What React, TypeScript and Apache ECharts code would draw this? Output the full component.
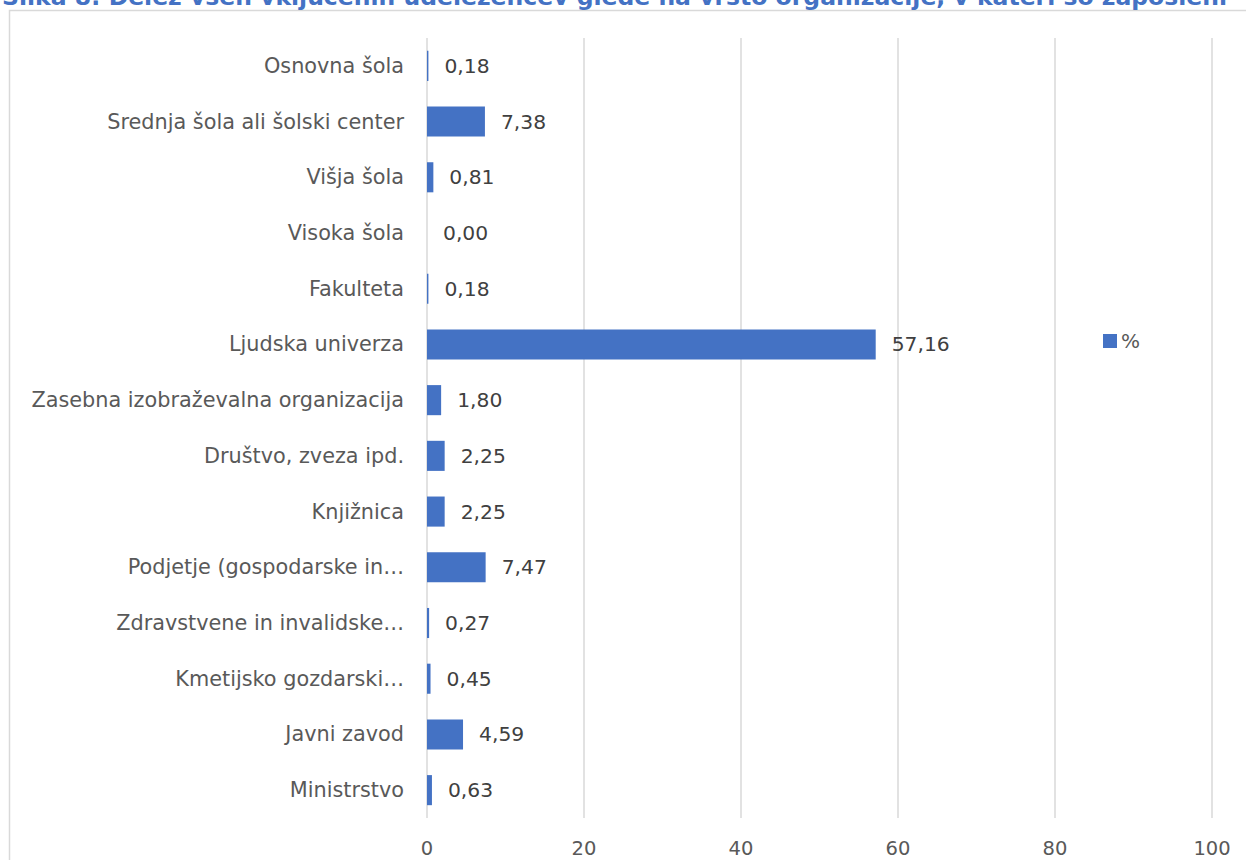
import React, { useEffect, useRef } from "react";
import * as echarts from "echarts";

const categories = [
  "Osnovna šola",
  "Srednja šola ali šolski center",
  "Višja šola",
  "Visoka šola",
  "Fakulteta",
  "Ljudska univerza",
  "Zasebna izobraževalna organizacija",
  "Društvo, zveza ipd.",
  "Knjižnica",
  "Podjetje (gospodarske in…",
  "Zdravstvene in invalidske…",
  "Kmetijsko gozdarski…",
  "Javni zavod",
  "Ministrstvo",
];
const values = [0.18, 7.38, 0.81, 0.0, 0.18, 57.16, 1.8, 2.25, 2.25, 7.47, 0.27, 0.45, 4.59, 0.63];
const xTicks = [0, 20, 40, 60, 80, 100];
const seriesName = "%";
const title = "Slika 8: Delež vseh vključenih udeležencev glede na vrsto organizacije, v kateri so zaposleni";

const FONT = "'DejaVu Sans', Verdana, sans-serif";

export default function App() {
  const ref = useRef<HTMLDivElement>(null);
  useEffect(() => {
    if (!ref.current) return;
    const chart = echarts.init(ref.current, null, { renderer: "svg" });
    chart.setOption({
      animation: false,
      backgroundColor: "#ffffff",
      textStyle: { fontFamily: FONT },
      graphic: [
        {
          type: "rect",
          shape: { x: 9.5, y: 10.5, width: 1260, height: 880 },
          style: { fill: "none", stroke: "#d9d9d9", lineWidth: 1.5 },
          z: -1,
        },
        {
          type: "text",
          left: 2,
          top: -15,
          style: {
            text: title,
            fill: "#4472C4",
            font: `bold 23.5px ${FONT}`,
          },
        },
      ],
      grid: { left: 427, right: 34, top: 38, bottom: 42, containLabel: false },
      legend: {
        left: 1098,
        top: 326,
        itemWidth: 14,
        itemHeight: 14,
        itemGap: 5,
        icon: "rect",
        textStyle: { fontSize: 20, color: "#595959", fontFamily: FONT, padding: [0, 0, 0, -1] },
        data: [seriesName],
      },
      xAxis: {
        type: "value",
        min: xTicks[0],
        max: xTicks[xTicks.length - 1],
        interval: 20,
        axisLine: { show: false },
        axisTick: { show: false },
        splitLine: { lineStyle: { color: "#d9d9d9", width: 1.5 } },
        axisLabel: { fontSize: 19.5, color: "#595959", margin: 20, fontFamily: FONT },
      },
      yAxis: {
        type: "category",
        inverse: true,
        data: categories,
        axisLine: { show: false },
        axisTick: { show: false },
        axisLabel: { fontSize: 20.8, color: "#595959", margin: 23, fontFamily: FONT },
      },
      series: [
        {
          name: seriesName,
          type: "bar",
          data: values,
          barCategoryGap: "46%",
          itemStyle: { color: "#4472C4" },
          label: {
            show: true,
            position: "right",
            distance: 16,
            fontSize: 20.3,
            color: "#404040",
            fontFamily: FONT,
            formatter: (p: any) => Number(p.value).toFixed(2).replace(".", ","),
          },
        },
      ],
    });
    return () => chart.dispose();
  }, []);
  return (
    <div
      ref={ref}
      style={{ position: "fixed", left: 0, top: 0, width: 1246, height: 860 }}
    />
  );
}
